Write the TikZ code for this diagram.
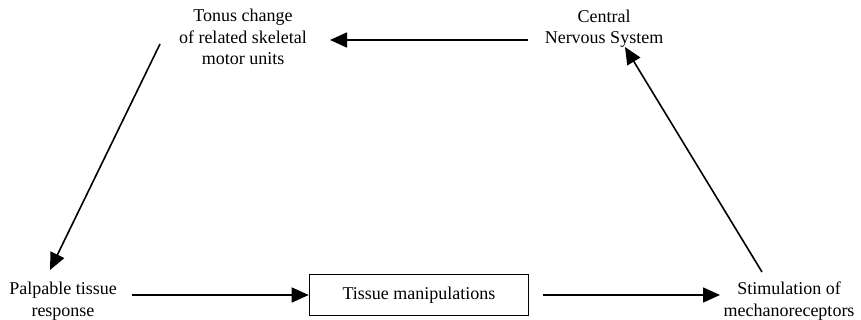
\documentclass[tikz,border=0pt]{standalone}
\usepackage{fontspec}
\setmainfont{Liberation Serif}
\usetikzlibrary{arrows.meta}
\begin{document}
\begin{tikzpicture}[x=1pt,y=-1pt,
  lbl/.style={align=center,inner sep=0pt,font=\fontsize{18}{21.5}\selectfont,anchor=base},
  conn/.style={line width=1.6pt,-{Triangle[length=17pt,width=15pt]}},
  boxnode/.style={draw,line width=1.6pt,minimum width=219pt,minimum height=41pt,inner sep=0pt,font=\fontsize{18}{21.5}\selectfont}]
\useasboundingbox (0,0) rectangle (861,320);
\node[lbl] (tonus) at (243,65) {Tonus change\\of related skeletal\\motor units};
\node[lbl] (cns) at (604,44) {Central\\Nervous System};
\node[lbl] (palp) at (63,316) {Palpable tissue\\response};
\node[lbl] (stim) at (789,316) {Stimulation of\\mechanoreceptors};
\node[boxnode] (box) at (419,295) {Tissue manipulations};
\coordinate (a1s) at (528,40);
\coordinate (a1e) at (330,40);
\coordinate (a2s) at (160,44);
\coordinate (a2e) at (50,270);
\coordinate (a3s) at (132,295);
\coordinate (a4e) at (720,295);
\coordinate (a5s) at (762,272);
\coordinate (a5e) at (625,47);
\draw[conn] (a1s) -- (a1e);
\draw[conn] (a2s) -- (a2e);
\draw[conn] (a3s) -- (a3s -| box.west);
\draw[conn] ([xshift=14pt]box.east) -- (a4e);
\draw[conn] (a5s) -- (a5e);
\end{tikzpicture}
\end{document}
